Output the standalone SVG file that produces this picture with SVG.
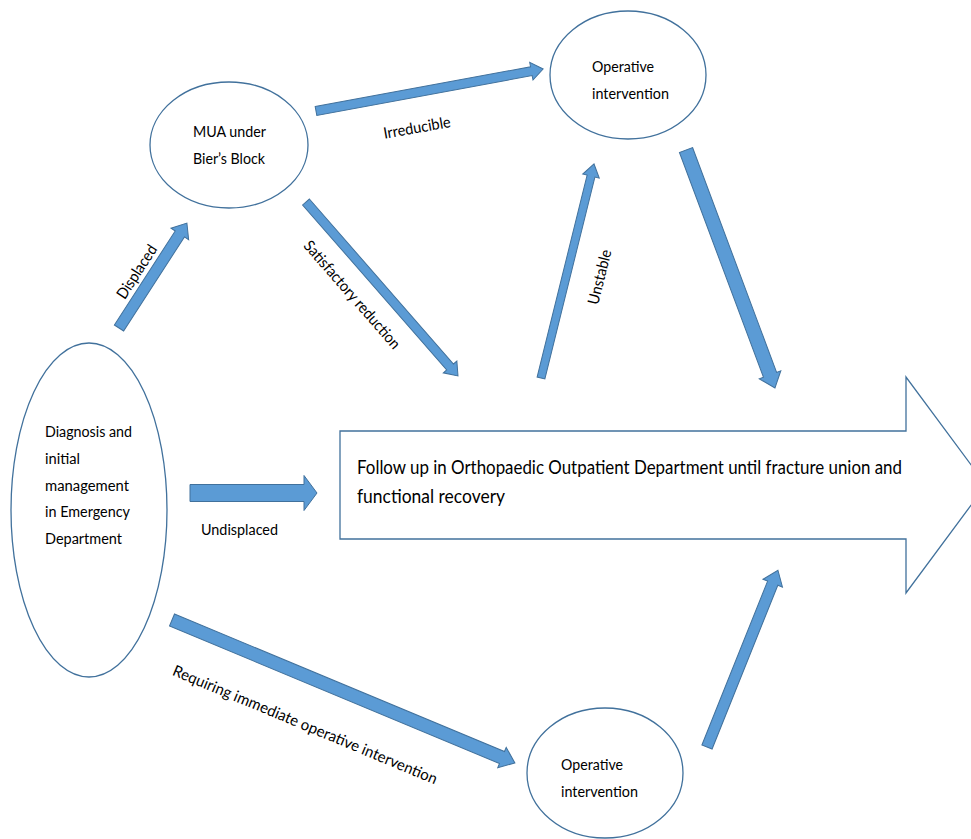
<svg xmlns="http://www.w3.org/2000/svg" width="971" height="839" viewBox="0 0 971 839">
<style>
  .node { fill: #ffffff; stroke: #41719c; stroke-width: 1.3; }
  .arr { fill: #5b9bd5; stroke: #41719c; stroke-width: 1; stroke-linejoin: miter; }
  text { font-family: Lato, "Liberation Sans", sans-serif; fill: #000000; }
  .t { font-size: 15.5px; }
  .big { font-size: 18.5px; }
  .lbl { font-size: 15.5px; text-anchor: middle; }
</style>
<rect x="0" y="0" width="971" height="839" fill="#ffffff"/>

<g id="follow-up">
  <polygon class="node" points="340,431 906,431 906,377 986,485 906,593 906,539 340,539"/>
  <text class="big" x="357" y="474" textLength="545" lengthAdjust="spacingAndGlyphs">Follow up in Orthopaedic Outpatient Department until fracture union and</text>
  <text class="big" x="357" y="503" textLength="148" lengthAdjust="spacingAndGlyphs">functional recovery</text>
</g>

<g id="diagnosis">
  <ellipse class="node" cx="89" cy="510" rx="78" ry="167"/>
  <text class="t" x="45" y="437" textLength="87" lengthAdjust="spacingAndGlyphs">Diagnosis and</text>
  <text class="t" x="45" y="464" textLength="35" lengthAdjust="spacingAndGlyphs">initial</text>
  <text class="t" x="45" y="491" textLength="84" lengthAdjust="spacingAndGlyphs">management</text>
  <text class="t" x="45" y="517" textLength="85" lengthAdjust="spacingAndGlyphs">in Emergency</text>
  <text class="t" x="45" y="544" textLength="77" lengthAdjust="spacingAndGlyphs">Department</text>
</g>

<g id="mua">
  <ellipse class="node" cx="229" cy="145" rx="79" ry="63"/>
  <text class="t" x="193" y="137" textLength="73" lengthAdjust="spacingAndGlyphs">MUA under</text>
  <text class="t" x="193" y="164" textLength="72" lengthAdjust="spacingAndGlyphs">Bier’s Block</text>
</g>

<g id="operative-top">
  <ellipse class="node" cx="628" cy="75" rx="78" ry="64"/>
  <text class="t" x="592" y="72" textLength="62" lengthAdjust="spacingAndGlyphs">Operative</text>
  <text class="t" x="592" y="99" textLength="77" lengthAdjust="spacingAndGlyphs">intervention</text>
</g>

<g id="operative-bottom">
  <ellipse class="node" cx="605" cy="773" rx="78" ry="65"/>
  <text class="t" x="561" y="770" textLength="62" lengthAdjust="spacingAndGlyphs">Operative</text>
  <text class="t" x="561" y="797" textLength="77" lengthAdjust="spacingAndGlyphs">intervention</text>
</g>

<g id="connectors">
  <!-- Displaced -->
  <path class="arr" transform="translate(119,328) rotate(-57.1)" d="M0,-5.5 L112,-5.5 L112,-10.5 L125,0 L112,10.5 L112,5.5 L0,5.5 Z"/>
  <!-- Satisfactory reduction -->
  <path class="arr" transform="translate(306,202) rotate(48.86)" d="M0,-4.5 L219,-4.5 L219,-9 L231,0 L219,9 L219,4.5 L0,4.5 Z"/>
  <!-- Irreducible -->
  <path class="arr" transform="translate(316,111) rotate(-10.48)" d="M0,-4.5 L219,-4.5 L219,-9 L231,0 L219,9 L219,4.5 L0,4.5 Z"/>
  <!-- Undisplaced -->
  <path class="arr" d="M190,484.5 L304,484.5 L304,475.5 L317,493 L304,510.5 L304,501.5 L190,501.5 Z"/>
  <!-- Unstable -->
  <path class="arr" transform="translate(541,378) rotate(-76.09)" d="M0,-4 L208,-4 L208,-8.5 L220.5,0 L208,8.5 L208,4 L0,4 Z"/>
  <!-- Operative (top) to follow up -->
  <path class="arr" transform="translate(686,150) rotate(69.5)" d="M0,-7 L240,-7 L240,-11.5 L254,0 L240,11.5 L240,7 L0,7 Z"/>
  <!-- Requiring immediate operative intervention -->
  <path class="arr" transform="translate(172,620) rotate(22.63)" d="M0,-6.5 L357.5,-6.5 L357.5,-11 L371.5,0 L357.5,11 L357.5,6.5 L0,6.5 Z"/>
  <!-- Operative (bottom) to follow up -->
  <path class="arr" transform="translate(707,747) rotate(-68.14)" d="M0,-5.5 L176.5,-5.5 L176.5,-10.5 L190.5,0 L176.5,10.5 L176.5,5.5 L0,5.5 Z"/>

  <text class="lbl" transform="translate(137,272) rotate(-57.1)" x="0" y="5" textLength="61" lengthAdjust="spacingAndGlyphs">Displaced</text>
  <text class="lbl" transform="translate(352,295) rotate(48.86)" x="0" y="5" textLength="138" lengthAdjust="spacingAndGlyphs">Satisfactory reduction</text>
  <text class="lbl" transform="translate(417,128) rotate(-10)" x="0" y="5" textLength="68" lengthAdjust="spacingAndGlyphs">Irreducible</text>
  <text class="lbl" x="239.5" y="535" textLength="77" lengthAdjust="spacingAndGlyphs">Undisplaced</text>
  <text class="lbl" transform="translate(600,277) rotate(-76.09)" x="0" y="5" textLength="56" lengthAdjust="spacingAndGlyphs">Unstable</text>
  <text class="lbl" transform="translate(305,725) rotate(22.63)" x="0" y="5" textLength="285" lengthAdjust="spacingAndGlyphs">Requiring immediate operative intervention</text>
</g>
</svg>
